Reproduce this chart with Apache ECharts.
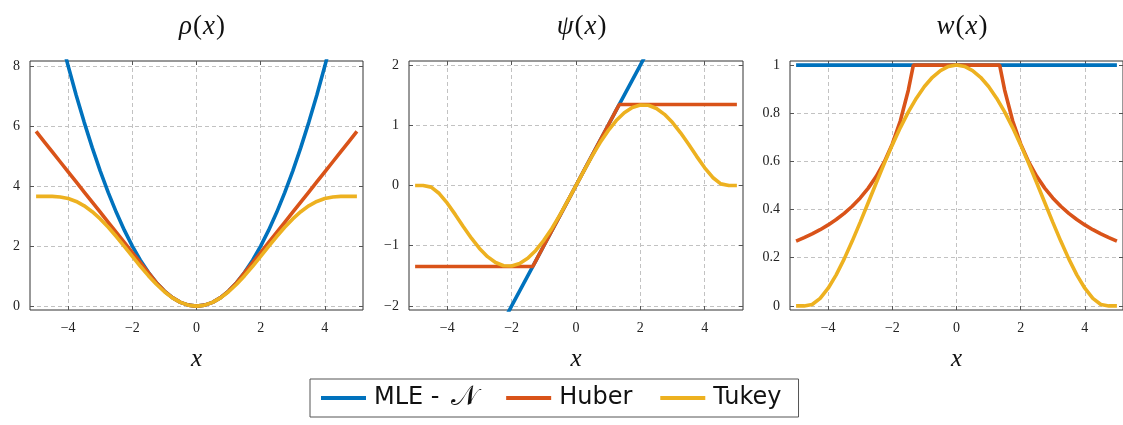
<!DOCTYPE html>
<html><head><meta charset="utf-8">
<script src="https://cdn.jsdelivr.net/npm/echarts@6/dist/echarts.min.js"></script>
<style>html,body{margin:0;padding:0;background:#fff}#c{width:1123px;height:425px}</style>
</head><body><div id="c"></div>
<script>
// ---- data ----
const seriesNames = ['MLE - 𝒩', 'Huber', 'Tukey'];
const panelTitles = ['ρ', 'ψ', 'w'];
const xs = [-5,-4.75,-4.5,-4.25,-4,-3.75,-3.5,-3.25,-3,-2.75,-2.5,-2.25,-2,-1.75,-1.5,-1.25,-1,-0.75,-0.5,-0.25,0,0.25,0.5,0.75,1,1.25,1.5,1.75,2,2.25,2.5,2.75,3,3.25,3.5,3.75,4,4.25,4.5,4.75,5];
const huberX = [-5,-4.75,-4.5,-4.25,-4,-3.75,-3.5,-3.25,-3,-2.75,-2.5,-2.25,-2,-1.75,-1.5,-1.345,-1.25,-1,-0.75,-0.5,-0.25,0,0.25,0.5,0.75,1,1.25,1.345,1.5,1.75,2,2.25,2.5,2.75,3,3.25,3.5,3.75,4,4.25,4.5,4.75,5];

const rhoMLE = [12.5,11.2813,10.125,9.0313,8,7.0313,6.125,5.2813,4.5,3.7813,3.125,2.5313,2,1.5313,1.125,0.7813,0.5,0.2813,0.125,0.0313,0,0.0313,0.125,0.2813,0.5,0.7813,1.125,1.5313,2,2.5313,3.125,3.7813,4.5,5.2813,6.125,7.0313,8,9.0313,10.125,11.2813,12.5];
const rhoHuber = [5.8205,5.4843,5.148,4.8118,4.4755,4.1393,3.803,3.4668,3.1305,2.7943,2.458,2.1218,1.7855,1.4493,1.113,0.9045,0.7813,0.5,0.2813,0.125,0.0313,0,0.0313,0.125,0.2813,0.5,0.7813,0.9045,1.113,1.4493,1.7855,2.1218,2.458,2.7943,3.1305,3.4668,3.803,4.1393,4.4755,4.8118,5.148,5.4843,5.8205];
const rhoTukey = [3.658,3.658,3.6563,3.6377,3.5852,3.4883,3.3424,3.1473,2.9069,2.6279,2.3195,1.9922,1.6576,1.3275,1.0136,0.7269,0.4775,0.2741,0.1236,0.0312,0,0.0312,0.1236,0.2741,0.4775,0.7269,1.0136,1.3275,1.6576,1.9922,2.3195,2.6279,2.9069,3.1473,3.3424,3.4883,3.5852,3.6377,3.6563,3.658,3.658];

const psiMLE = [-5,-4.75,-4.5,-4.25,-4,-3.75,-3.5,-3.25,-3,-2.75,-2.5,-2.25,-2,-1.75,-1.5,-1.25,-1,-0.75,-0.5,-0.25,0,0.25,0.5,0.75,1,1.25,1.5,1.75,2,2.25,2.5,2.75,3,3.25,3.5,3.75,4,4.25,4.5,4.75,5];
const psiHuber = [-1.345,-1.345,-1.345,-1.345,-1.345,-1.345,-1.345,-1.345,-1.345,-1.345,-1.345,-1.345,-1.345,-1.345,-1.345,-1.345,-1.25,-1,-0.75,-0.5,-0.25,0,0.25,0.5,0.75,1,1.25,1.345,1.345,1.345,1.345,1.345,1.345,1.345,1.345,1.345,1.345,1.345,1.345,1.345,1.345,1.345,1.345];
const psiTukey = [0,0,-0.027,-0.1333,-0.2938,-0.4841,-0.6834,-0.8746,-1.0442,-1.1814,-1.279,-1.3318,-1.3375,-1.2957,-1.2082,-1.0784,-0.911,-0.7121,-0.4887,-0.2486,0,0.2486,0.4887,0.7121,0.911,1.0784,1.2082,1.2957,1.3375,1.3318,1.279,1.1814,1.0442,0.8746,0.6834,0.4841,0.2938,0.1333,0.027,0,0];

const wMLE = [1,1,1,1,1,1,1,1,1,1,1,1,1,1,1,1,1,1,1,1,1,1,1,1,1,1,1,1,1,1,1,1,1,1,1,1,1,1,1,1,1];
const wHuber = [0.269,0.2832,0.2989,0.3165,0.3363,0.3587,0.3843,0.4138,0.4483,0.4891,0.538,0.5978,0.6725,0.7686,0.8967,1,1,1,1,1,1,1,1,1,1,1,1,1,0.8967,0.7686,0.6725,0.5978,0.538,0.4891,0.4483,0.4138,0.3843,0.3587,0.3363,0.3165,0.2989,0.2832,0.269];
const wTukey = [0,0,0.006,0.0314,0.0735,0.1291,0.1953,0.2691,0.3481,0.4296,0.5116,0.5919,0.6687,0.7404,0.8055,0.8627,0.911,0.9494,0.9774,0.9943,1,0.9943,0.9774,0.9494,0.911,0.8627,0.8055,0.7404,0.6687,0.5919,0.5116,0.4296,0.3481,0.2691,0.1953,0.1291,0.0735,0.0314,0.006,0,0];

const xTickValues = [-4, -2, 0, 2, 4];
const yTickValues = [[0, 2, 4, 6, 8], [-2, -1, 0, 1, 2], [0, 0.2, 0.4, 0.6, 0.8, 1]];
const xRange = [-5.19, 5.19];
const yRanges = [[-0.13, 8.17], [-2.067, 2.067], [-0.017, 1.017]];

// ---- layout ----
const colors = ['#0072BD', '#D95319', '#EDB120'];
const SERIF = 'Liberation Serif';
const grids = [
  {left: 30, top: 61, width: 333, height: 249},
  {left: 409, top: 61, width: 334, height: 249},
  {left: 790, top: 61, width: 333, height: 249}
];
const panels = [
  [rhoMLE, rhoHuber, rhoTukey],
  [psiMLE, psiHuber, psiTukey],
  [wMLE, wHuber, wTukey]
];
function fmt(v){
  const r = Math.round(v*10)/10;
  if (Math.abs(r) < 1e-9) return '0';
  return r < 0 ? '\u2212' + String(-r) : String(r);
}
const dashed = {show: true, lineStyle: {color: '#c2c2c2', width: 1, type: [4, 3]}};
function tick(vals){ return {show: true, inside: true, length: 4, customValues: vals, lineStyle: {color: '#555', width: 1}}; }
const noLine = {show: false, onZero: false};
const xAxes = [], yAxes = [], series = [], titles = [];
grids.forEach((g, i) => {
  g.show = true; g.borderColor = '#333'; g.borderWidth = 1; g.backgroundColor = 'transparent';
  xAxes.push({gridIndex: i, type: 'value', min: xRange[0], max: xRange[1], position: 'bottom',
    axisLine: noLine, axisTick: tick(xTickValues), splitLine: dashed,
    axisLabel: {customValues: xTickValues, formatter: fmt, fontFamily: SERIF, fontSize: 14, color: '#222', margin: 11},
    name: 'x', nameLocation: 'middle', nameGap: 37,
    nameTextStyle: {fontFamily: SERIF, fontStyle: 'italic', fontSize: 25, color: '#111'}});
  xAxes.push({gridIndex: i, type: 'value', min: xRange[0], max: xRange[1], position: 'top',
    axisLine: noLine, axisTick: tick(xTickValues), splitLine: {show: false}, axisLabel: {show: false}});
  yAxes.push({gridIndex: i, type: 'value', min: yRanges[i][0], max: yRanges[i][1], position: 'left',
    axisLine: noLine, axisTick: tick(yTickValues[i]), splitLine: dashed,
    axisLabel: {customValues: yTickValues[i], formatter: fmt, fontFamily: SERIF, fontSize: 14, color: '#222', margin: 10}});
  yAxes.push({gridIndex: i, type: 'value', min: yRanges[i][0], max: yRanges[i][1], position: 'right',
    axisLine: noLine, axisTick: tick(yTickValues[i]), splitLine: {show: false}, axisLabel: {show: false}});
  panels[i].forEach((ys, k) => {
    const xsrc = k === 1 ? huberX : xs;
    series.push({
      name: seriesNames[k], type: 'line', xAxisIndex: 2*i, yAxisIndex: 2*i,
      data: xsrc.map((x, j) => [x, ys[j]]),
      showSymbol: false, symbol: 'none', clip: true, animation: false,
      lineStyle: {color: colors[k], width: 3.6}, itemStyle: {color: colors[k]}, z: 3 + k
    });
  });
  titles.push({
    text: '{i|' + panelTitles[i] + '}{r|(}{i|x}{r|)}',
    left: g.left + g.width/2, textAlign: 'center', top: 8,
    textStyle: {fontWeight: 'normal', rich: {
      i: {fontFamily: SERIF, fontStyle: 'italic', fontWeight: 'normal', fontSize: 27, color: '#111', padding: [0, 1, 0, 1]},
      r: {fontFamily: SERIF, fontWeight: 'normal', fontSize: 27, color: '#111'}
    }}
  });
});

const chart = echarts.init(document.getElementById('c'), null, {renderer: 'canvas'});
chart.setOption({
  animation: false,
  color: colors,
  title: titles,
  grid: grids,
  xAxis: xAxes,
  yAxis: yAxes,
  legend: {
    data: seriesNames, left: 310, top: 379,
    icon: 'rect', itemWidth: 45, itemHeight: 4, itemGap: 28,
    borderColor: '#555', borderWidth: 1, backgroundColor: '#fff',
    padding: [5, 17, 5, 11],
    formatter: function(name){
      if (name === seriesNames[0]) return '{t|MLE - }{n|𝒩}';
      return '{t|' + name + '}';
    },
    textStyle: {fontFamily: 'DejaVu Sans', fontSize: 24, color: '#111', padding: [0, 0, 0, 3],
      rich: {
        t: {fontFamily: 'DejaVu Sans', fontSize: 24, color: '#111'},
        n: {fontFamily: 'DejaVu Sans', fontSize: 28, color: '#111', padding: [0, 3, 0, 4]}
      }}
  },
  series: series
});
</script></body></html>
